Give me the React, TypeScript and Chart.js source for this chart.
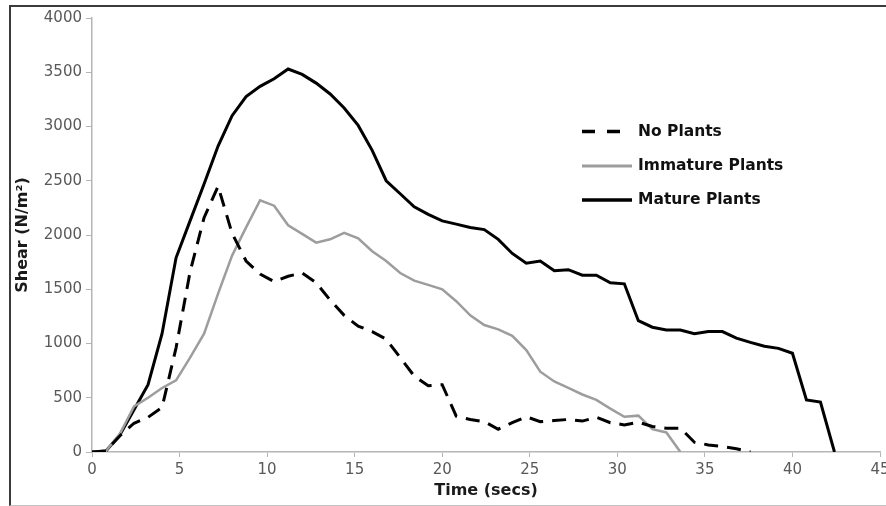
import React, { useEffect, useRef } from "react";
import { Chart, registerables } from "chart.js";

Chart.register(...registerables);

// Time axis (seconds)
const TIME = [
  0, 0.8, 1.6, 2.4, 3.2, 4, 4.8, 5.6, 6.4, 7.2,
  8, 8.8, 9.6, 10.4, 11.2, 12, 12.8, 13.6, 14.4, 15.2,
  16, 16.8, 17.6, 18.4, 19.2, 20, 20.8, 21.6, 22.4, 23.2,
  24, 24.8, 25.6, 26.4, 27.2, 28, 28.8, 29.6, 30.4, 31.2,
  32, 32.8, 33.6, 34.4, 35.2, 36, 36.8, 37.6, 38.4, 39.2,
  40, 40.8, 41.6, 42.4,
];

// Shear (N/m²)
const NO_PLANTS = [
  0, 10, 150, 265, 320, 410, 960, 1660, 2160, 2450,
  2015, 1760, 1640, 1570, 1620, 1650, 1560, 1400, 1260, 1160,
  1110, 1040, 870, 700, 610, 620, 330, 300, 280, 210,
  270, 325, 280, 290, 300, 285, 320, 270, 250, 275,
  235, 220, 220, 90, 65, 50, 30, 0,
];

const IMMATURE = [
  0, 10, 170, 420, 500, 590, 660, 870, 1090, 1460,
  1810, 2070, 2320, 2270, 2090, 2010, 1930, 1960, 2020, 1970,
  1850, 1760, 1650, 1580, 1540, 1500, 1390, 1260, 1170, 1130,
  1070, 940, 740, 650, 590, 530, 480, 400, 325, 335,
  210, 180, 0,
];

const MATURE = [
  0, 10, 160, 390, 620, 1090, 1790, 2130, 2470, 2820,
  3100, 3275, 3370, 3440, 3530, 3480, 3400, 3300, 3170, 3010,
  2780, 2500, 2380, 2260, 2190, 2130, 2100, 2070, 2050, 1960,
  1830, 1740, 1760, 1670, 1680, 1630, 1630, 1560, 1550, 1210,
  1150, 1125, 1125, 1090, 1110, 1110, 1050, 1010, 975, 955,
  910, 480, 460, 0,
];

const X_TICKS = [0, 5, 10, 15, 20, 25, 30, 35, 40, 45];
const Y_TICKS = [0, 500, 1000, 1500, 2000, 2500, 3000, 3500, 4000];
const SERIES_LABELS = ["No Plants", "Immature Plants", "Mature Plants"];
const X_TITLE = "Time (secs)";
const Y_TITLE = "Shear (N/m²)";

const toPoints = (vals: number[]) => vals.map((v, i) => ({ x: TIME[i], y: v }));

const TICK_FONT = { family: "'DejaVu Sans', sans-serif", size: 15 };
const TITLE_FONT = { family: "'DejaVu Sans', sans-serif", size: 16, weight: "bold" as const };

const insideLegend = {
  id: "insideLegend",
  afterDraw(chart: any) {
    const ctx = chart.ctx;
    const rows = [131.5, 166, 200];
    const x0 = 582;
    const x1 = 632;
    ctx.save();
    chart.data.datasets.forEach((ds: any, i: number) => {
      const y = rows[i];
      ctx.beginPath();
      ctx.strokeStyle = ds.borderColor;
      ctx.lineWidth = ds.borderWidth + 0.5;
      ctx.setLineDash(ds.borderDash && ds.borderDash.length ? [13, 12] : []);
      ctx.lineCap = "butt";
      ctx.moveTo(x0, y);
      ctx.lineTo(x1, y);
      ctx.stroke();
      ctx.setLineDash([]);
      ctx.fillStyle = "#111";
      ctx.font = "bold 15.5px 'DejaVu Sans', sans-serif";
      ctx.textBaseline = "middle";
      ctx.textAlign = "left";
      ctx.fillText(ds.label, 638, y);
    });
    ctx.restore();
  },
};

export default function App() {
  const ref = useRef<HTMLCanvasElement | null>(null);

  useEffect(() => {
    if (!ref.current) return;
    const chart = new Chart(ref.current, {
      type: "line",
      data: {
        datasets: [
          {
            label: SERIES_LABELS[0],
            data: toPoints(NO_PLANTS),
            borderColor: "#000000",
            borderWidth: 3,
            borderDash: [14, 9],
            pointRadius: 0,
            tension: 0,
            fill: false,
          },
          {
            label: SERIES_LABELS[1],
            data: toPoints(IMMATURE),
            borderColor: "#9d9d9d",
            borderWidth: 2.5,
            pointRadius: 0,
            tension: 0,
            fill: false,
          },
          {
            label: SERIES_LABELS[2],
            data: toPoints(MATURE),
            borderColor: "#000000",
            borderWidth: 3,
            pointRadius: 0,
            tension: 0,
            fill: false,
          },
        ],
      },
      options: {
        animation: false,
        responsive: false,
        maintainAspectRatio: false,
        layout: { padding: { top: 18, right: 16, left: 0, bottom: 0 } },
        plugins: {
          legend: { display: false },
          tooltip: { enabled: false },
        },
        scales: {
          x: {
            type: "linear",
            min: 0,
            max: 45,
            afterBuildTicks: (s: any) => {
              s.ticks = X_TICKS.map((v) => ({ value: v }));
            },
            afterFit: (s: any) => {
              s.height = 54;
            },
            ticks: {
              color: "#595959",
              font: TICK_FONT,
              padding: 4,
              maxRotation: 0,
              autoSkip: false,
              callback: (v: any) => String(v),
            },
            grid: { drawOnChartArea: false, drawTicks: true, tickLength: 5, color: "#b5b5b5" },
            border: { display: true, color: "#b5b5b5", width: 1.5 },
            title: {
              display: true,
              text: X_TITLE,
              color: "#1a1a1a",
              font: TITLE_FONT,
              padding: { top: 0, bottom: 6 },
            },
          },
          y: {
            type: "linear",
            min: 0,
            max: 4000,
            afterBuildTicks: (s: any) => {
              s.ticks = Y_TICKS.map((v) => ({ value: v }));
            },
            afterFit: (s: any) => {
              s.width = 92;
            },
            ticks: {
              color: "#595959",
              font: TICK_FONT,
              padding: 4,
              autoSkip: false,
              callback: (v: any) => String(v),
            },
            grid: { drawOnChartArea: false, drawTicks: true, tickLength: 6, color: "#b5b5b5" },
            border: { display: true, color: "#b5b5b5", width: 1.5 },
            title: {
              display: true,
              text: Y_TITLE,
              color: "#1a1a1a",
              font: TITLE_FONT,
              padding: { top: 13, bottom: 0 },
            },
          },
        },
      },
      plugins: [insideLegend],
    } as any);
    return () => chart.destroy();
  }, []);

  return (
    <div
      style={{
        position: "fixed",
        left: 0,
        top: 0,
        width: 886,
        height: 506,
        overflow: "hidden",
        background: "#ffffff",
      }}
    >
      <canvas ref={ref} width={896} height={506} style={{ position: "absolute", left: 0, top: 0, width: 896, height: 506 }} />
      <div
        style={{
          position: "absolute",
          left: 9,
          top: 5,
          width: 900,
          height: 501,
          boxSizing: "border-box",
          borderTop: "2px solid #3c3c3c",
          borderLeft: "2px solid #3c3c3c",
          borderBottom: "1px solid #c4c4c4",
          pointerEvents: "none",
        }}
      />
    </div>
  );
}
